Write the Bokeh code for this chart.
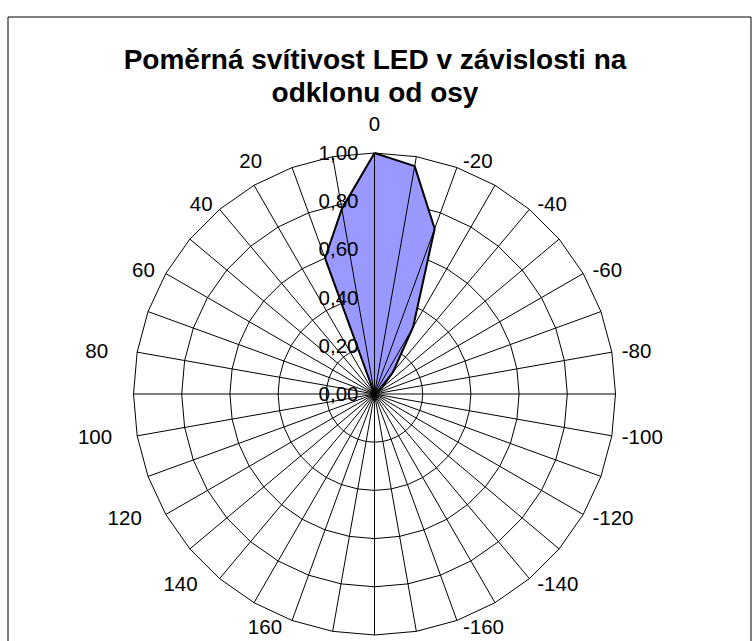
import numpy as np
from bokeh.plotting import figure
from bokeh.models import ColumnDataSource
from bokeh.embed import file_html
from bokeh.resources import INLINE
from bokeh.core.properties import value

# ---------------- data ----------------
title_lines = ["Poměrná svítivost LED v závislosti na", "odklonu od osy"]

angles = [0, -10, -20, -30, -40, -50, -60, -70, -80, -90, -100, -110, -120,
          -130, -140, -150, -160, -170, 180, 170, 160, 150, 140, 130, 120,
          110, 100, 90, 80, 70, 60, 50, 40, 30, 20, 10]
intensity = [1.00, 0.96, 0.73, 0.32, 0.12, 0.04, 0.0, 0.0, 0.0, 0.0, 0.0, 0.0,
             0.0, 0.0, 0.0, 0.0, 0.0, 0.0, 0.0, 0.0, 0.0, 0.0, 0.0, 0.0,
             0.0, 0.0, 0.0, 0.0, 0.0, 0.0, 0.0, 0.0, 0.0, 0.0, 0.60, 0.78]

# category labels visible in the picture (180 lies below the visible area)
label_angles = [0, -20, -40, -60, -80, -100, -120, -140, -160,
                160, 140, 120, 100, 80, 60, 40, 20]
label_texts = [str(a) for a in label_angles]

radial_ticks = [0.0, 0.2, 0.4, 0.6, 0.8, 1.0]
radial_labels = ["0,00", "0,20", "0,40", "0,60", "0,80", "1,00"]

# ---------------- layout / style ----------------
W, H = 755, 641
PX = 241.0             # pixels per unit radius
CX, CY = 374.0, 393.5  # centre of the radar (px from top-left)
FONT = value("Liberation Sans")
LABEL_SIZE = "20.5px"
# horizontal gap (px) between outer ring vertex and label, left side
LEFT_GAP = {20: 30, 40: 7, 60: 11, 80: 29, 100: 25, 120: 24, 140: 22, 160: 10}

def fx(px):
    return (px - CX) / PX

def fy(py):
    return (CY - py) / PX

p = figure(width=W, height=H, x_range=(fx(0), fx(W)), y_range=(fy(H), fy(0)),
           output_backend="svg", toolbar_location=None, min_border=0,
           x_axis_type=None, y_axis_type=None)
p.grid.visible = False
p.outline_line_color = None
p.background_fill_color = "white"
p.border_fill_color = "white"

def to_xy(a_deg, r):
    t = np.deg2rad(a_deg)
    return -r * np.sin(t), r * np.cos(t)

ang = np.array(angles, dtype=float)
full = np.append(ang, ang[0])

# rings (polygonal)
ring_xs, ring_ys = [], []
for r in radial_ticks[1:]:
    x, y = to_xy(full, r)
    ring_xs.append(list(x)); ring_ys.append(list(y))
p.multi_line(ring_xs, ring_ys, line_color="black", line_width=1)

# data area
vals = np.array(intensity)
dx, dy = to_xy(ang, vals)
p.patch(list(dx), list(dy), fill_color="#9999FF", line_color=None)

# spokes
sx, sy = to_xy(ang, 1.0)
p.segment(x0=[0.0] * len(ang), y0=[0.0] * len(ang), x1=list(sx), y1=list(sy),
          line_color="black", line_width=1)

# outline of area
p.line(list(np.append(dx, dx[0])), list(np.append(dy, dy[0])),
       line_color="black", line_width=2)

# category labels
lx, ly, la, lb = [], [], [], []
for a in label_angles:
    t = np.deg2rad(a)
    s, c = -np.sin(t), np.cos(t)
    if abs(s) < 1e-6:
        lx.append(0.0)
        la.append("center")
        if c > 0:
            ly.append(1.0 + 22 / PX); lb.append("bottom")
        else:
            ly.append(-1.0 - 22 / PX); lb.append("top")
    elif s > 0:
        lx.append(s + (4 + 6 * s) / PX); la.append("left")
        ly.append(c + 7 * c / PX); lb.append("middle")
    else:
        lx.append(s - LEFT_GAP.get(a, 10) / PX); la.append("right")
        ly.append(c + 7 * c / PX); lb.append("middle")

lsrc = ColumnDataSource(dict(x=lx, y=ly, t=label_texts, a=la, b=lb))
p.text(x="x", y="y", text="t", text_align="a", text_baseline="b", source=lsrc,
       text_font=FONT, text_font_size=LABEL_SIZE, text_color="black")

# radial axis labels
rsrc = ColumnDataSource(dict(x=[-16 / PX] * len(radial_ticks), y=radial_ticks,
                             t=radial_labels))
p.text(x="x", y="y", text="t", source=rsrc, text_align="right",
       text_baseline="middle", text_font=FONT, text_font_size=LABEL_SIZE,
       text_color="black")

# title
tsrc = ColumnDataSource(dict(x=[fx(374.5), fx(374.5)], y=[fy(59), fy(92)],
                             t=title_lines))
p.text(x="x", y="y", text="t", source=tsrc, text_align="center",
       text_baseline="middle", text_font=FONT, text_font_size="28px",
       text_font_style="bold", text_color="black")

# chart frame (left, top, right)
p.line([fx(7.5), fx(7.5), fx(750.5), fx(750.5)],
       [fy(H + 20), fy(16.5), fy(16.5), fy(H + 20)],
       line_color="black", line_width=1)

open("out.html", "w").write(file_html(p, INLINE))
